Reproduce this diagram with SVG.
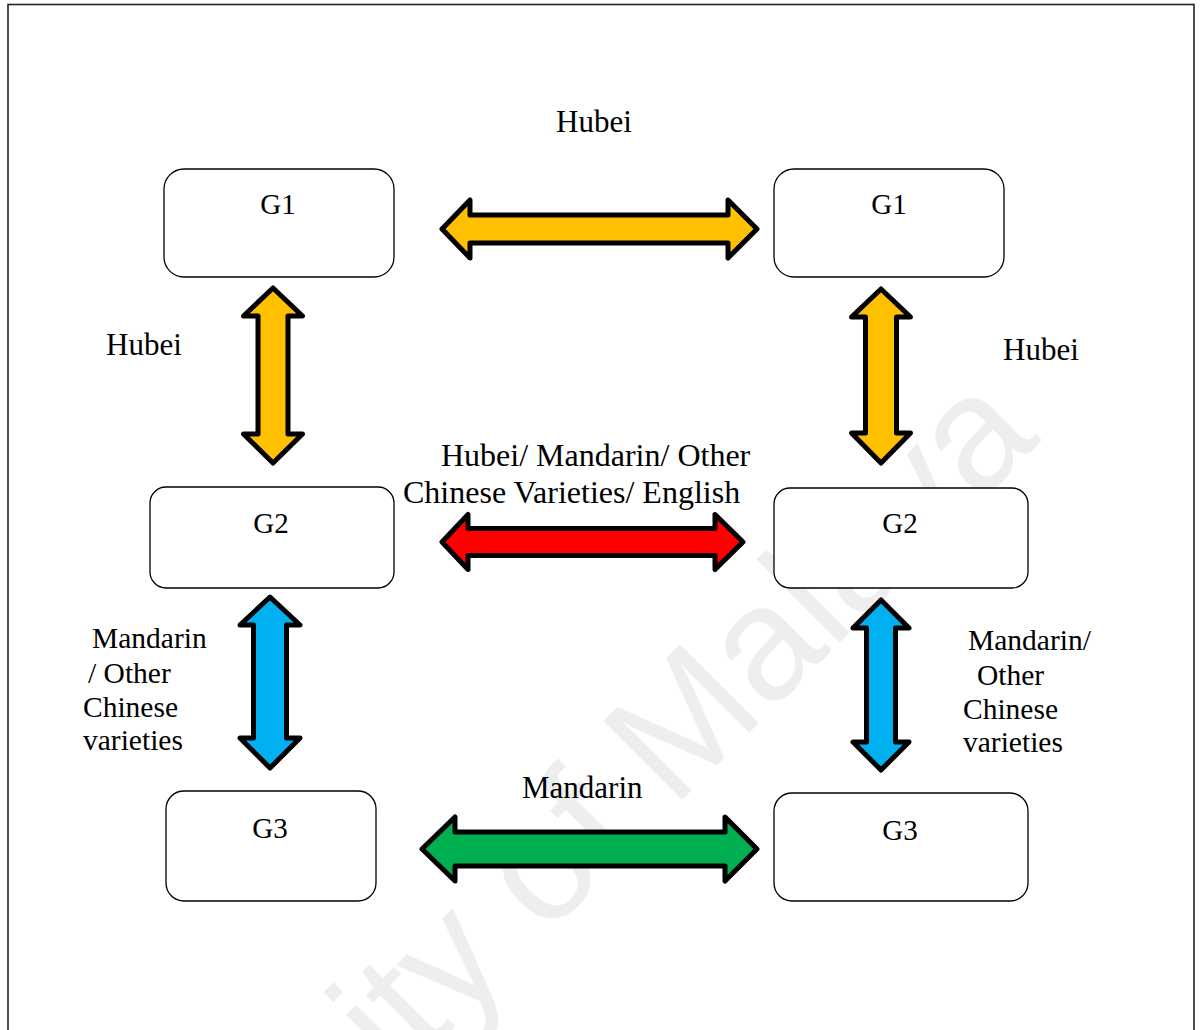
<svg xmlns="http://www.w3.org/2000/svg" width="1202" height="1030" viewBox="0 0 1202 1030">
<style>
.box{fill:#fff;stroke:#000;stroke-width:1.3}
.nt{font-family:"Liberation Serif","Times New Roman",serif;font-size:29px;fill:#000;text-anchor:middle}
.lb{font-family:"Liberation Serif","Times New Roman",serif;font-size:31px;fill:#000}
.lm{font-family:"Liberation Serif","Times New Roman",serif;font-size:32px;fill:#000}
.ls{font-family:"Liberation Serif","Times New Roman",serif;font-size:29.5px;fill:#000}
.arr{stroke:#000;stroke-width:5;stroke-linejoin:round}
.wm{font-family:"Liberation Sans",Arial,sans-serif;font-size:162px;fill:#eeeeee}
</style>
<rect width="1202" height="1030" fill="#fff"/>
<rect x="8" y="4.5" width="1186" height="1040" fill="none" stroke="#222" stroke-width="1.6"/>
<text class="wm" transform="translate(1042,440) rotate(-45)" text-anchor="end">University of Malaya</text>
<g id="g1-left"><rect class="box" x="164" y="169" width="230" height="108" rx="20"/><text class="nt" x="278" y="214">G1</text></g>
<g id="g1-right"><rect class="box" x="774" y="169" width="230" height="108" rx="20"/><text class="nt" x="889" y="214">G1</text></g>
<g id="g2-left"><rect class="box" x="150" y="487" width="244" height="101" rx="16"/><text class="nt" x="271" y="533">G2</text></g>
<g id="g2-right"><rect class="box" x="774" y="488" width="254" height="100" rx="16"/><text class="nt" x="900" y="533">G2</text></g>
<g id="g3-left"><rect class="box" x="166" y="791" width="210" height="110" rx="18"/><text class="nt" x="270" y="838">G3</text></g>
<g id="g3-right"><rect class="box" x="774" y="793" width="254" height="108" rx="18"/><text class="nt" x="900" y="840">G3</text></g>
<g id="connectors">
<path class="arr" fill="#FFC000" d="M442,229 L470,200 L470,215 L728,215 L728,200 L757,229 L728,258 L728,243 L470,243 L470,258 Z"/>
<path class="arr" fill="#FF0000" d="M442,542 L468,514.5 L468,528.5 L715,528.5 L715,514.5 L743,542 L715,569.5 L715,555.5 L468,555.5 L468,569.5 Z"/>
<path class="arr" fill="#00B050" d="M422,849 L455,817 L455,832 L725,832 L725,817 L757,849 L725,881 L725,866 L455,866 L455,881 Z"/>
<path class="arr" fill="#FFC000" d="M273,288 L302.5,316 L288,316 L288,434 L302.5,434 L273,463 L243.5,434 L258,434 L258,316 L243.5,316 Z"/>
<path class="arr" fill="#FFC000" d="M881,289 L910.5,317 L896.5,317 L896.5,433 L910.5,433 L881,463 L851.5,433 L865.5,433 L865.5,317 L851.5,317 Z"/>
<path class="arr" fill="#00B0F0" d="M270,597 L300,625 L286.5,625 L286.5,738 L300,738 L270,768 L240,738 L253.5,738 L253.5,625 L240,625 Z"/>
<path class="arr" fill="#00B0F0" d="M881,600 L909,628 L895.5,628 L895.5,742 L909,742 L881,770 L853,742 L866.5,742 L866.5,628 L853,628 Z"/>
<text class="lb" x="556" y="132">Hubei</text>
<text class="lb" x="106" y="355">Hubei</text>
<text class="lb" x="1003" y="360">Hubei</text>
<text class="lm" x="441" y="466">Hubei/ Mandarin/ Other</text>
<text class="lm" x="403" y="503">Chinese Varieties/ English</text>
<text class="ls" x="92" y="648">Mandarin</text>
<text class="ls" x="88" y="683">/ Other</text>
<text class="ls" x="83" y="717">Chinese</text>
<text class="ls" x="83" y="750">varieties</text>
<text class="ls" x="968" y="650">Mandarin/</text>
<text class="ls" x="977" y="685">Other</text>
<text class="ls" x="963" y="719">Chinese</text>
<text class="ls" x="963" y="752">varieties</text>
<text class="lb" x="522" y="798">Mandarin</text>
</g>
</svg>
